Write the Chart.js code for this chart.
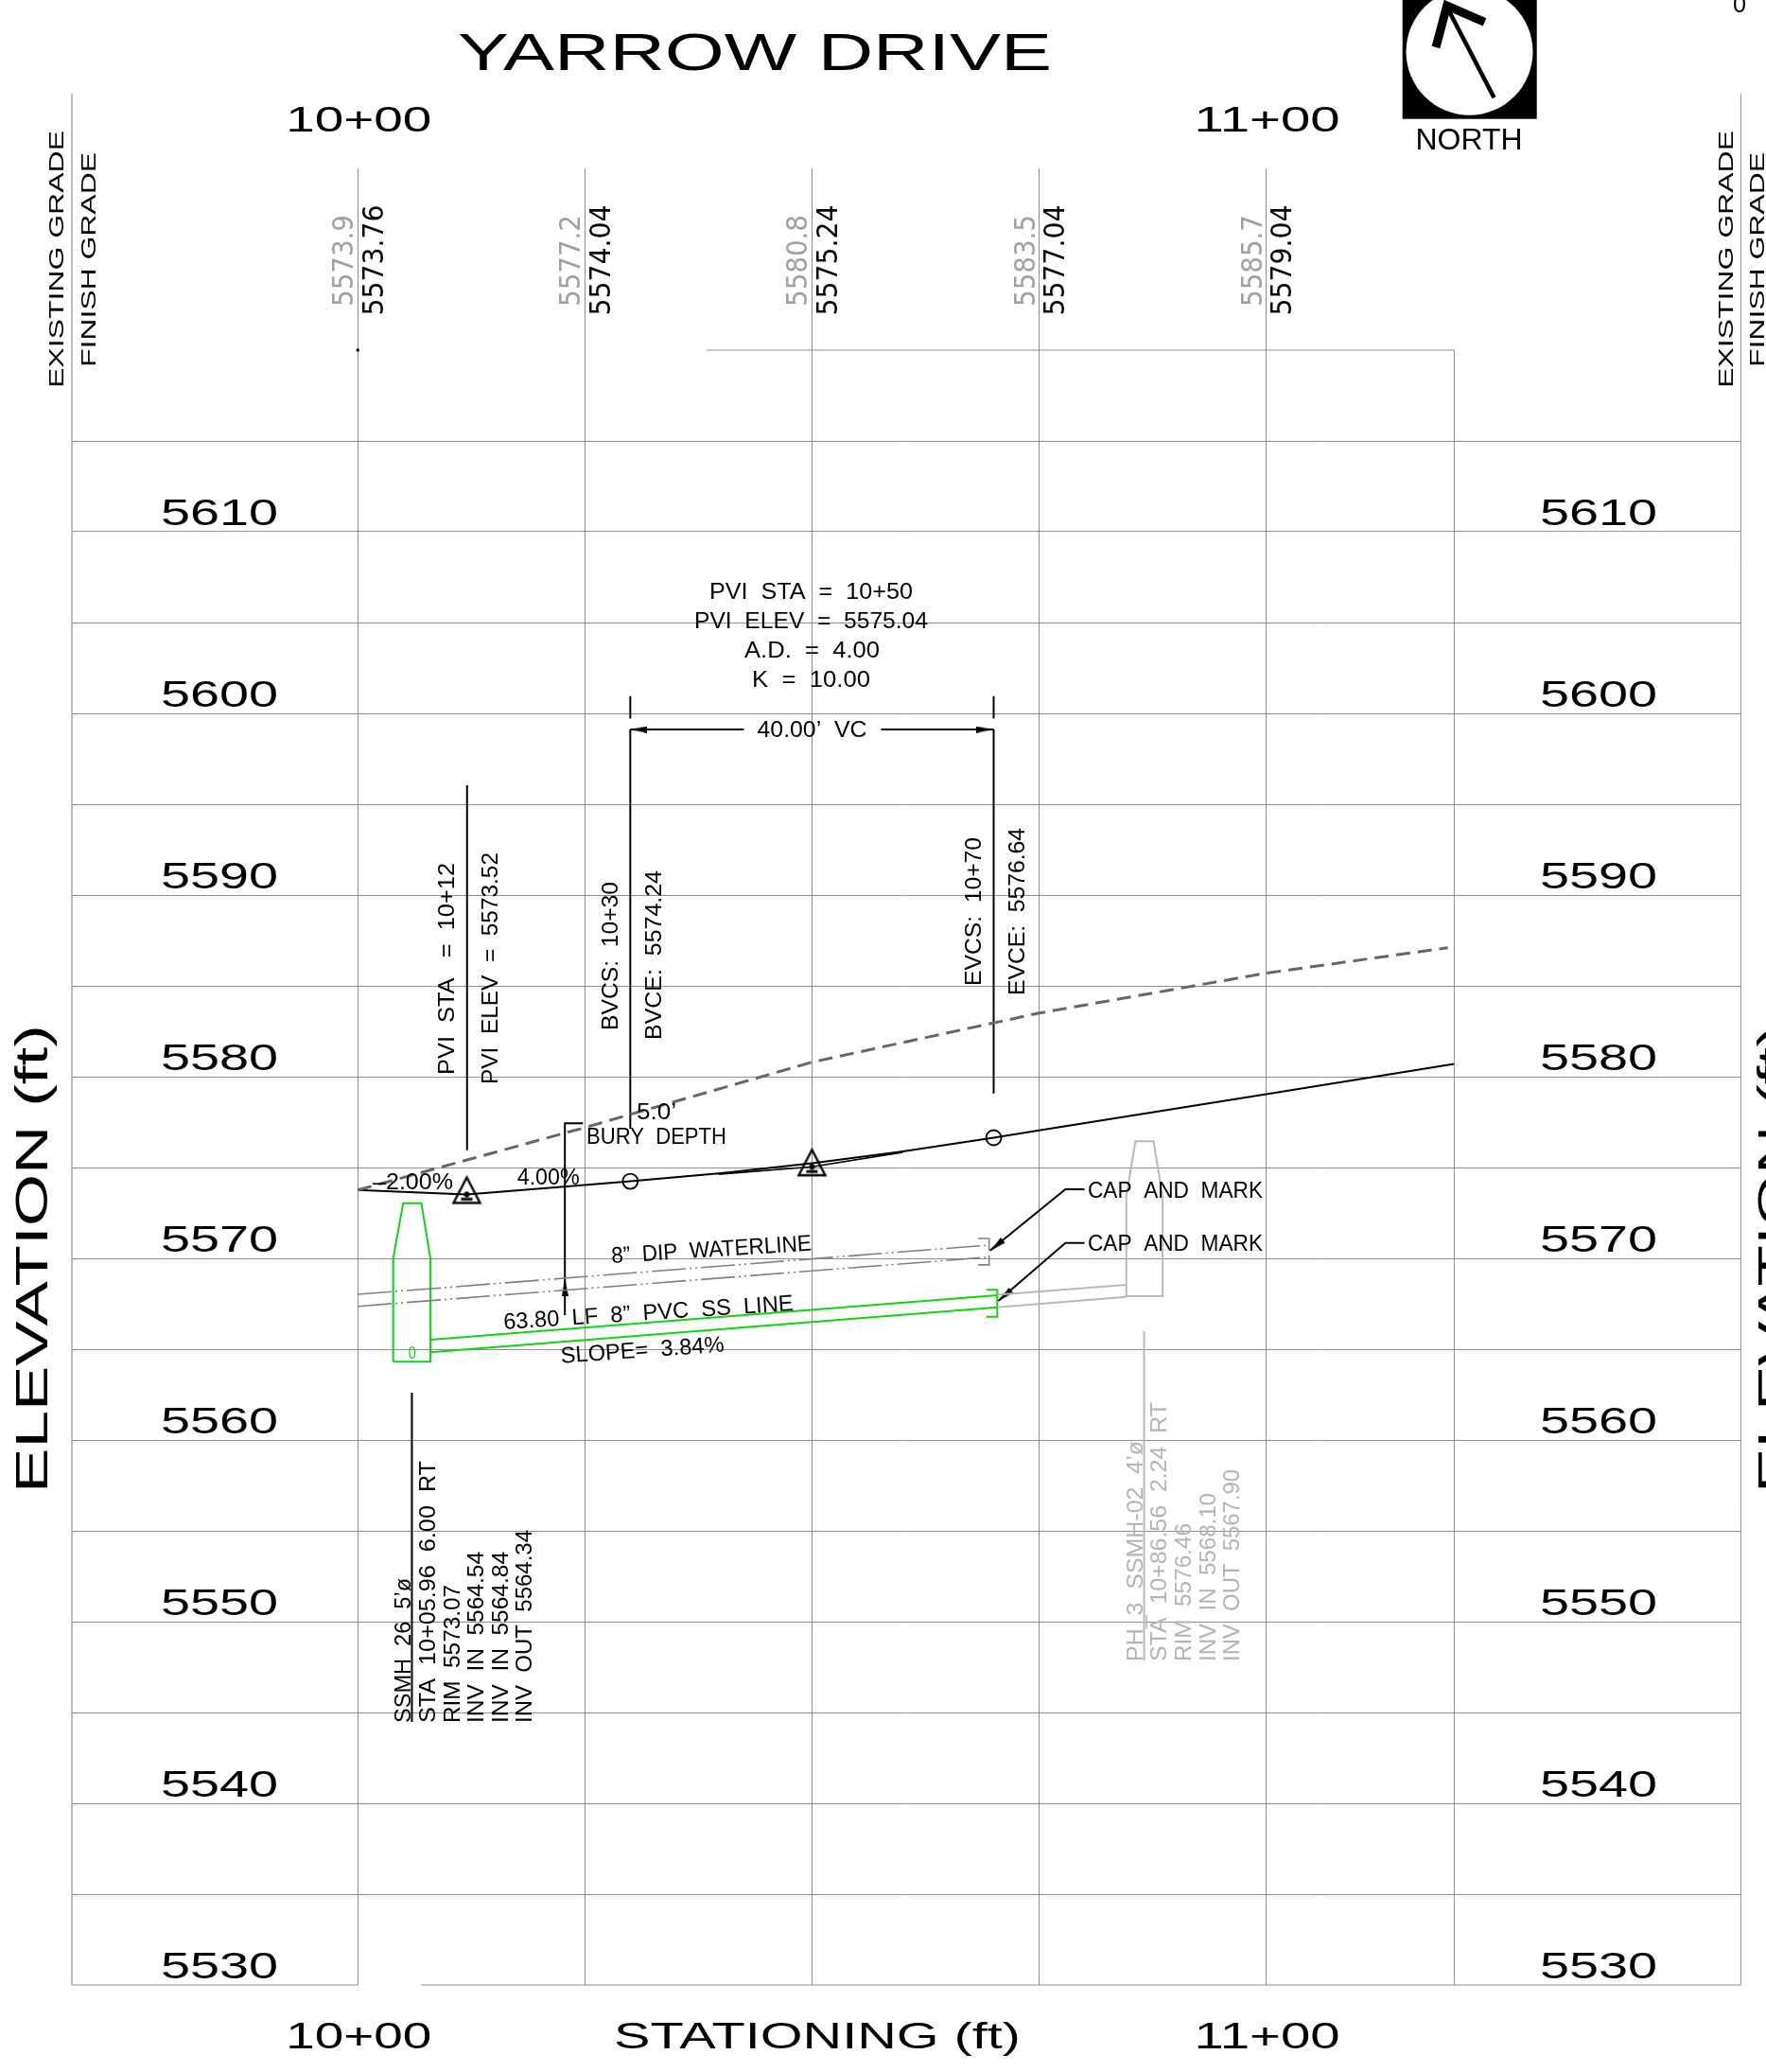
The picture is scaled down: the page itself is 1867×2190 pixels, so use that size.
<!DOCTYPE html>
<html>
<head>
<meta charset="utf-8">
<title>Yarrow Drive profile</title>
<script src="https://cdn.jsdelivr.net/npm/chart.js@4"></script>
<style>
html, body { margin: 0; padding: 0; background: #fff; }
canvas { display: block; }
</style>
</head>
<body>
<canvas id="profile" width="1867" height="2190"></canvas>
<script>
// stations are plain feet (10+00 = 1000), elevations in feet
var stationLabels = ["10+00", "11+00"];
var stationLabelValues = [1000, 1100];
var elevationLabels = [5530, 5540, 5550, 5560, 5570, 5580, 5590, 5600, 5610];
var gradeStations = [1000, 1025, 1050, 1075, 1100];
var existingLabels = ["5573.9", "5577.2", "5580.8", "5583.5", "5585.7"];
var finishLabels = ["5573.76", "5574.04", "5575.24", "5577.04", "5579.04"];

var existingGrade = [[1000, 5573.76], [1025, 5577.2], [1050, 5580.8], [1075, 5583.5], [1100, 5585.7], [1120, 5587.1]];
var finishGrade = [[1000, 5573.76], [1005, 5573.66], [1012, 5573.52], [1025, 5574.04], [1030, 5574.24], [1040, 5574.69], [1050, 5575.24], [1060, 5575.89], [1070, 5576.64], [1075, 5577.04], [1100, 5579.04], [1120.7, 5580.7]];
var tangentGrade = [[1039.7, 5574.63], [1050, 5575.04], [1060, 5575.84]];

var waterTop = [[1000, 5568.02], [1069.5, 5570.73]];
var waterBottom = [[1000, 5567.36], [1069.5, 5570.07]];
var waterCapTop = [[1068.3, 5571.09], [1069.5, 5571.09], [1069.5, 5570.42]];
var waterCapBottom = [[1069.5, 5570.16], [1069.5, 5569.64], [1068.3, 5569.64]];

var sewerTop = [[1008, 5565.52], [1070.4, 5567.97]];
var sewerBottom = [[1008, 5564.83], [1070.4, 5567.31]];
var sewerCap = [[1069.2, 5568.27], [1070.4, 5568.27], [1070.4, 5566.79], [1069.2, 5566.79]];
var manhole26 = [[1003.9, 5564.31], [1008, 5564.31], [1008, 5570], [1007, 5573.04], [1005, 5573.04], [1003.9, 5570], [1003.9, 5564.31]];
var manholePh3 = [[1084.6, 5567.92], [1088.6, 5567.92], [1088.6, 5573.41], [1087.6, 5576.44], [1085.6, 5576.44], [1084.6, 5573.41], [1084.6, 5567.92]];
var pipePh3Top = [[1070.4, 5568], [1084.6, 5568.54]];
var pipePh3Bottom = [[1070.4, 5567.31], [1084.6, 5567.88]];

var leaderPvi = [[1012.03, 5596.04], [1012.03, 5575.95]];
var leaderBvc = [[1030, 5599.11], [1030, 5577.14]];
var leaderEvc = [[1070, 5599.11], [1070, 5579.08]];
var tickBvc = [[1030, 5600.95], [1030, 5599.72]];
var tickEvc = [[1070, 5600.95], [1070, 5599.72]];
var dimLeft = [[1030, 5599.11], [1042.5, 5599.11]];
var dimRight = [[1057.6, 5599.11], [1070, 5599.11]];
var leaderBury = [[1024.8, 5577.43], [1022.8, 5577.43], [1022.8, 5566.88]];
var leaderCapTop = [[1080, 5573.8], [1077.9, 5573.8], [1069.6, 5570.43]];
var leaderCapBottom = [[1080, 5570.85], [1077.9, 5570.85], [1070.5, 5567.66]];
var leaderSsmh = [[1005.96, 5562.6], [1005.96, 5544.48]];
var leaderPh3 = [[1086.56, 5566], [1086.56, 5547.86]];

var frameLeft = [[968.53, 5530], [968.53, 5634.1]];
var frameRight = [[1152.25, 5530], [1152.25, 5634.1]];
var borderEnd = [[1120.7, 5530], [1120.7, 5620]];
var topPartial = [[1038.4, 5620], [1120.7, 5620]];
var bottomLeft = [[968.53, 5530], [1000, 5530]];
var bottomRight = [[1006.95, 5530], [1152.25, 5530]];
var stubStart = [[1000, 5620.08], [1000, 5619.92]];

var vcPoints = [[1030, 5574.24], [1070, 5576.64]];
var pviPoints = [[1012, 5573.52], [1050, 5575.04]];
var arrowBury = [[1022.8, 5568.4]];
var arrowCaps = [[1070.3, 5570.7], [1071.2, 5567.94]];
var arrowDimLeft = [[1030.9, 5599.11]];
var arrowDimRight = [[1069, 5599.11]];

var GRID = "#8e8e8e";
var INK = "#000000";
var GREY_TEXT = "#b4b4b4";
var GREY_LINE = "#b8b8b8";
var WATER = "#808080";
var GREEN = "#12d312";

function pts(list) {
  return list.map(function (p) { return { x: p[0], y: p[1] }; });
}

function line(list, color, width, dash) {
  return {
    type: "scatter",
    data: pts(list),
    showLine: true,
    borderColor: color,
    borderWidth: width,
    borderDash: dash || [],
    pointRadius: 0,
    tension: 0,
    clip: false
  };
}

// triangle marker with the small blob inside, centred on the PVI point
function triangleMarker() {
  var c = document.createElement("canvas");
  c.width = 44; c.height = 44;
  var g = c.getContext("2d");
  g.strokeStyle = INK; g.lineWidth = 2.4;
  g.beginPath();
  g.moveTo(22, 4); g.lineTo(36, 31); g.lineTo(8, 31); g.closePath();
  g.stroke();
  g.fillStyle = INK;
  g.beginPath(); g.arc(22, 22, 3, 0, Math.PI * 2); g.fill();
  g.fillRect(16, 25.5, 12, 3);
  return c;
}

function arrowMarker() {
  var c = document.createElement("canvas");
  c.width = 7; c.height = 18;
  var g = c.getContext("2d");
  g.fillStyle = INK;
  g.beginPath();
  g.moveTo(3.5, 0); g.lineTo(7, 18); g.lineTo(0, 18); g.closePath();
  g.fill();
  return c;
}

var arrow = arrowMarker();
var triangle = triangleMarker();

function markers(list, style, rotation) {
  return {
    type: "scatter",
    data: pts(list),
    showLine: false,
    pointStyle: style,
    pointRadius: 8,
    pointRotation: rotation || 0,
    pointBorderColor: INK,
    pointBackgroundColor: "rgba(0,0,0,0)",
    pointBorderWidth: 1.8,
    clip: false
  };
}

// stretch text to a width, CAD fonts are much wider than Arial
function fitText(ctx, text, x, y, width, size, color, angle, family) {
  ctx.save();
  ctx.font = size + "px " + (family || "'Liberation Sans'");
  ctx.fillStyle = color || INK;
  ctx.textAlign = "left";
  ctx.textBaseline = "alphabetic";
  ctx.translate(x, y);
  if (angle) ctx.rotate(angle);
  ctx.scale(width / ctx.measureText(text).width, 1);
  ctx.fillText(text, 0, 0);
  ctx.restore();
}

var UP = -Math.PI / 2;

var textPlugin = {
  id: "sheetText",
  afterDraw: function (chart) {
    var ctx = chart.ctx;
    var sx = chart.scales.x, sy = chart.scales.y;

    fitText(ctx, "YARROW DRIVE", 484, 74, 628, 55);

    stationLabels.forEach(function (t, i) {
      var px = sx.getPixelForValue(stationLabelValues[i]);
      fitText(ctx, t, px - 76, 138.5, 154, 36);
      fitText(ctx, t, px - 76, 2165, 154, 38);
    });
    fitText(ctx, "STATIONING (ft)", 649, 2165, 430, 38);

    elevationLabels.forEach(function (v) {
      var py = sy.getPixelForValue(v) - 7.3;
      fitText(ctx, String(v), 170, py, 124, 38);
      fitText(ctx, String(v), 1628, py, 124, 38);
    });

    fitText(ctx, "ELEVATION (ft)", 50, 1578, 495, 48, INK, UP);
    fitText(ctx, "ELEVATION (ft)", 1891.6, 1578, 495, 48, INK, UP);

    fitText(ctx, "EXISTING GRADE", 67, 410, 272, 22, INK, UP);
    fitText(ctx, "FINISH GRADE", 101, 388, 227, 22, INK, UP);
    fitText(ctx, "EXISTING GRADE", 1832, 410, 272, 22, INK, UP);
    fitText(ctx, "FINISH GRADE", 1865, 388, 227, 22, INK, UP);

    gradeStations.forEach(function (st, i) {
      var px = sx.getPixelForValue(st);
      fitText(ctx, existingLabels[i], px - 5, 324, 97, 31, "#a0a0a0", UP, "'DejaVu Sans ExtraLight', 'DejaVu Sans'");
      fitText(ctx, finishLabels[i], px + 26.5, 333.5, 117, 31, INK, UP, "'DejaVu Sans'");
    });

    // north arrow block
    ctx.save();
    ctx.fillStyle = INK;
    ctx.fillRect(1482.7, 0, 142, 125.7);
    ctx.fillStyle = "#fff";
    ctx.beginPath(); ctx.arc(1553.5, 54.7, 67, 0, Math.PI * 2); ctx.fill();
    ctx.strokeStyle = INK; ctx.lineWidth = 4.5;
    ctx.beginPath(); ctx.moveTo(1579.5, 103.3); ctx.lineTo(1530, 8); ctx.stroke();
    ctx.lineWidth = 9;
    ctx.beginPath(); ctx.moveTo(1569.5, 23.3); ctx.lineTo(1529.7, 6); ctx.lineTo(1518, 50); ctx.stroke();
    ctx.restore();
    fitText(ctx, "NORTH", 1496.5, 158.3, 113, 32);
    fitText(ctx, "0", 1832, 13, 14, 26);

    // profile notes
    var small = function (t, x, y, w, c, a) { fitText(ctx, t, x, y, w, 24, c || INK, a || 0); };
    small("PVI  STA  =  10+50", 750, 633.3, 215);
    small("PVI  ELEV  =  5575.04", 734, 664, 247);
    small("A.D.  =  4.00", 787, 695, 143);
    small("K  =  10.00", 795, 725.8, 125);
    small("40.00\u2019  VC", 800.5, 779, 116);
    small("PVI  STA   =  10+12", 480, 1136, 224, INK, UP);
    small("PVI  ELEV  =  5573.52", 525.7, 1146, 245, INK, UP);
    small("BVCS:  10+30", 653.4, 1089, 157, INK, UP);
    small("BVCE:  5574.24", 699, 1099, 179, INK, UP);
    small("EVCS:  10+70", 1036.9, 1042, 157, INK, UP);
    small("EVCE:  5576.64", 1083, 1052, 177, INK, UP);
    small("5.0\u2019", 673, 1182.7, 42);
    small("BURY  DEPTH", 620, 1209.3, 148);
    small("\u20132.00%", 394, 1256.7, 85);
    small("4.00%", 546.7, 1251.7, 66);
    small("8\u201d  DIP  WATERLINE", 646.7, 1335, 212, INK, -0.063);
    small("63.80  LF  8\u201d  PVC  SS  LINE", 532.7, 1405, 307, INK, -0.065);
    small("SLOPE=  3.84%", 593.3, 1440.7, 173, INK, -0.07);
    small("CAP  AND  MARK", 1150, 1265.7, 185);
    small("CAP  AND  MARK", 1150, 1322.3, 185);
    fitText(ctx, "0", 431.7, 1436, 8, 18, GREEN);

    small("SSMH  26  5\u2019\u00f8", 434, 1821, 153, INK, UP);
    small("STA  10+05.96  6.00  RT", 460, 1821, 277, INK, UP);
    small("RIM  5573.07", 485.7, 1821, 146, INK, UP);
    small("INV  IN  5564.54", 510.7, 1821, 181, INK, UP);
    small("INV  IN  5564.84", 536.7, 1821, 181, INK, UP);
    small("INV  OUT  5564.34", 562.3, 1821, 204, INK, UP);

    small("PH_3  SSMH-02  4\u2019\u00f8", 1208.3, 1756, 233, GREY_TEXT, UP);
    small("STA  10+86.56  2.24  RT", 1232.7, 1756, 274, GREY_TEXT, UP);
    small("RIM  5576.46", 1259, 1756, 146, GREY_TEXT, UP);
    small("INV  IN  5568.10", 1285, 1756, 178, GREY_TEXT, UP);
    small("INV  OUT  5567.90", 1310, 1756, 203, GREY_TEXT, UP);
  }
};

var chart = new Chart(document.getElementById("profile"), {
  type: "scatter",
  data: {
    datasets: [
      line(frameLeft, "#a6a6a6", 1.5), line(frameRight, GRID, 1), line(borderEnd, GRID, 1),
      line(topPartial, GRID, 1), line(bottomLeft, GRID, 1), line(bottomRight, GRID, 1),
      line(stubStart, INK, 3),
      line(existingGrade, "#666666", 3, [15, 8]),
      line(finishGrade, INK, 2), line(tangentGrade, INK, 1.6),
      line(waterTop, WATER, 1.6, [36, 4, 2, 4, 2, 4]),
      line(waterBottom, WATER, 1.6, [36, 4, 2, 4, 2, 4]),
      line(waterCapTop, WATER, 1.6), line(waterCapBottom, WATER, 1.6),
      line(pipePh3Top, GREY_LINE, 2), line(pipePh3Bottom, GREY_LINE, 2), line(manholePh3, GREY_LINE, 2),
      line(sewerTop, GREEN, 2), line(sewerBottom, GREEN, 2), line(sewerCap, GREEN, 2), line(manhole26, GREEN, 2),
      line(leaderPvi, INK, 2), line(leaderBvc, INK, 2), line(leaderEvc, INK, 2),
      line(tickBvc, INK, 2), line(tickEvc, INK, 2), line(dimLeft, INK, 2), line(dimRight, INK, 2),
      line(leaderBury, INK, 2), line(leaderCapTop, INK, 2), line(leaderCapBottom, INK, 2),
      line(leaderSsmh, INK, 2), line(leaderPh3, GREY_LINE, 2),
      markers(vcPoints, "circle", 0),
      markers(pviPoints, triangle, 0),
      markers(arrowBury, arrow, 0),
      markers(arrowCaps, arrow, -130),
      markers(arrowDimLeft, arrow, -90),
      markers(arrowDimRight, arrow, 90)
    ]
  },
  options: {
    responsive: false,
    animation: false,
    devicePixelRatio: 1,
    layout: { padding: { left: 76, right: 26.6, top: 178, bottom: 92 } },
    plugins: { legend: { display: false }, tooltip: { enabled: false }, title: { display: false } },
    scales: {
      x: {
        type: "linear", min: 968.53, max: 1152.25,
        afterBuildTicks: function (axis) {
          axis.ticks = gradeStations.map(function (v) { return { value: v }; });
        },
        ticks: { display: false },
        grid: { color: GRID, lineWidth: 1, drawTicks: false },
        border: { display: false }
      },
      y: {
        type: "linear", min: 5530, max: 5630,
        ticks: { display: false, stepSize: 5 },
        grid: {
          drawTicks: false, lineWidth: 1,
          color: function (c) {
            var v = c.tick.value;
            return (v > 5530 && v <= 5615) ? GRID : "rgba(0,0,0,0)";
          }
        },
        border: { display: false }
      }
    }
  },
  plugins: [textPlugin]
});
</script>
</body>
</html>
